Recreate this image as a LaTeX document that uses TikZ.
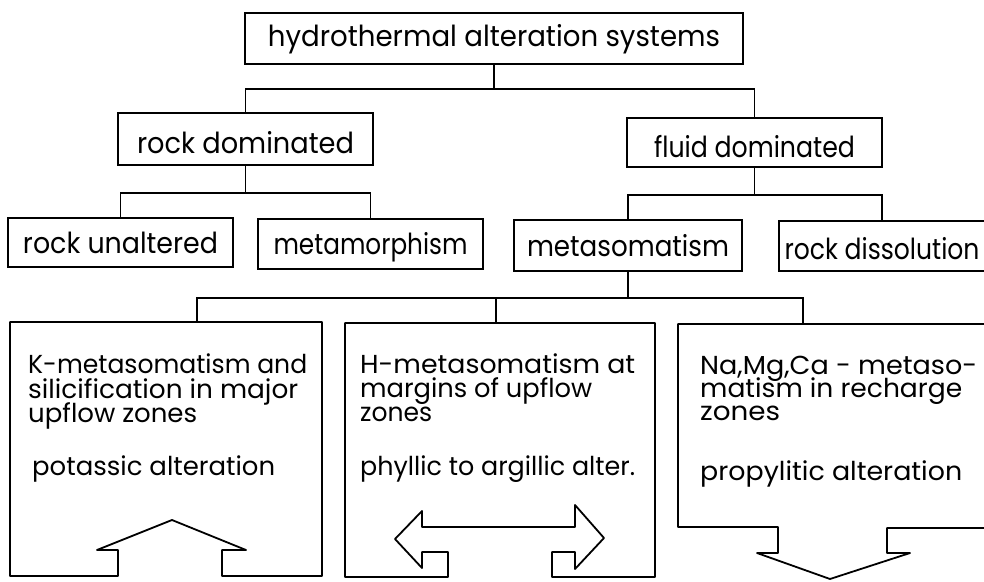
\documentclass[tikz,border=0pt]{standalone}
\usepackage{fontspec}
\setmainfont{Poppins}
\usepackage{graphicx}
\newcommand\fitw[2]{\resizebox{#1pt}{\height}{#2}}
\newcommand\firstline{\rule{0pt}{21pt}}
\newcommand\tightpar{\fontsize{26}{24}\selectfont\lineskiplimit=-100pt\relax
  \lineskip=0pt\relax\parindent=0pt\relax\parskip=0pt\relax}
\newenvironment{boxtext}{\begin{minipage}[t]{300pt}\tightpar\firstline\ignorespaces}{\end{minipage}}
\begin{document}
\begin{tikzpicture}[x=1pt,y=-1pt,
  box/.style={draw, line width=1.8pt, inner sep=0pt, text height=21.5pt, text depth=0pt,
    font=\fontsize{29}{32}\selectfont},
  wire/.style={line width=1.7pt},
  outline/.style={line width=1.8pt, line join=round},
  para/.style={anchor=north west, inner sep=0pt}]

\useasboundingbox (0,0) rectangle (984,581);

% upper tiers
\node[box, minimum width=498pt, minimum height=51pt, text depth=6pt] (top) at (494,38.5)
  {\fitw{452}{hydrothermal alteration systems}};
\node[box, minimum width=255pt, minimum height=52pt, text height=29.5pt] (rock) at (245.5,139)
  {\fitw{217}{rock dominated}};
\node[box, minimum width=255pt, minimum height=49pt, text height=30.5pt] (fluid) at (754.5,142.5)
  {\fitw{201}{fluid dominated}};
\node[box, minimum width=225pt, minimum height=49pt] (unalt) at (120.5,242.5)
  {\fitw{195}{rock unaltered}};
\node[box, minimum width=225pt, minimum height=50pt] (metam) at (370.5,244)
  {\fitw{194}{metamorphism}};
\node[box, minimum width=228pt, minimum height=51pt] (metas) at (628,245.5)
  {\fitw{202}{metasomatism}};
\node[box, minimum width=206pt, minimum height=50pt, text height=26.5pt] (diss) at (882,246)
  {\fitw{195}{rock dissolution}};

% connectors
\coordinate (j1) at (494,89);
\draw[wire] (top.south) -- (j1);
\draw[wire] (rock.north) |- (j1) -| (fluid.north);
\coordinate (j2) at (245.5,193);
\draw[wire] (rock.south) -- (j2);
\draw[wire] (unalt.north) |- (j2) -| (metam.north);
\coordinate (j3) at (754.5,195);
\draw[wire] (fluid.south) -- (j3);
\draw[wire] (metas.north) |- (j3) -| (diss.north);

% bottom boxes with arrows
\coordinate (b1in) at (197,322);
\coordinate (b2in) at (496,323);
\coordinate (b3in) at (803,324);
\draw[outline] (118,576) -- (10,576) -- (10,322) -- (322,322) -- (322,576) -- (222,576)
  -- (222,550) -- (246,550) -- (172,520) -- (97,550) -- (118,550) -- cycle;
\draw[outline] (448,577) -- (345,577) -- (345,323) -- (655,323) -- (655,577) -- (552,577)
  -- (552,552) -- (575,552) -- (575,569) -- (604,538) -- (575,505) -- (575,527)
  -- (422,527) -- (422,511) -- (395,539) -- (422,568) -- (422,552) -- (448,552) -- cycle;
\draw[outline] (778,527) -- (678,527) -- (678,324) -- (992,324) -- (992,528) -- (887,528)
  -- (887,553) -- (910,553) -- (830,579) -- (757,553) -- (778,553) -- cycle;

\coordinate (j4) at (628,298);
\draw[wire] (metas.south) -- (j4);
\draw[wire] (b1in) |- (j4) -| (b3in);
\draw[wire] (b2in) -- (b2in |- j4);

% texts of bottom boxes
\node[para] (b1t) at (28,352) {\begin{boxtext}%
  \fitw{279}{K-metasomatism and}\par\vspace{1pt}
  \fitw{270}{silicification in major}\par\vspace{0pt}
  \fitw{169}{upflow zones}\par\vspace{29pt}
  \hspace*{4pt}\fitw{243}{potassic alteration}\end{boxtext}};
\node[para] (b2t) at (360,352) {\begin{boxtext}%
  \fitw{275}{H-metasomatism at}\par
  \fitw{232}{margins of upflow}\par\vspace{0pt}
  \fitw{72}{zones}\par\vspace{30pt}
  \fitw{275}{phyllic to argillic alter.}\end{boxtext}};
\node[para] (b3t) at (700,353) {\begin{boxtext}%
  \fitw{277}{Na,Mg,Ca - metaso-}\par\vspace{-1pt}
  \fitw{262}{matism in recharge}\par\vspace{-1pt}
  \fitw{80}{zones}\par\vspace{36pt}
  \fitw{262}{propylitic alteration}\end{boxtext}};
\end{tikzpicture}
\end{document}
